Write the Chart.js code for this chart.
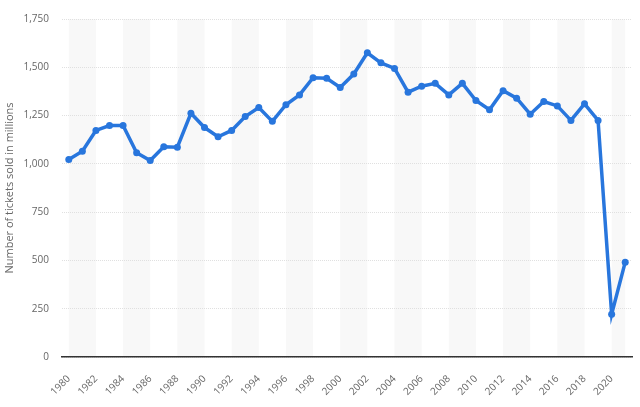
<!DOCTYPE html>
<html lang="en">
    <head>
        <title> Tickets sold </title>
        <script src="https://cdn.jsdelivr.net/npm/chart.js@4.4.1/dist/chart.umd.min.js"></script>
        <style>
            html, body { margin: 0; padding: 0; background: #fff; }
            #wrap { width: 640px; height: 407px; }
        </style>
    </head>

    <body>
        <div id="wrap"><canvas id="myChart"></canvas></div>

        <script>

            // data
            const Anos = [1980, 1981, 1982, 1983, 1984, 1985, 1986, 1987, 1988, 1989,
                          1990, 1991, 1992, 1993, 1994, 1995, 1996, 1997, 1998, 1999,
                          2000, 2001, 2002, 2003, 2004, 2005, 2006, 2007, 2008, 2009,
                          2010, 2011, 2012, 2013, 2014, 2015, 2016, 2017, 2018, 2019,
                          2020, 2021];
            const Ingressos = [1023, 1065, 1173, 1198, 1199, 1057, 1017, 1089, 1086, 1262,
                               1188, 1140, 1173, 1245, 1292, 1220, 1306, 1357, 1446, 1443,
                               1395, 1465, 1575, 1523, 1494, 1371, 1402, 1417, 1357, 1417,
                               1328, 1280, 1379, 1340, 1257, 1323, 1300, 1225, 1311, 1225,
                               221, 491];
            const TicksX = [1980, 1982, 1984, 1986, 1988, 1990, 1992, 1994, 1996, 1998, 2000,
                            2002, 2004, 2006, 2008, 2010, 2012, 2014, 2016, 2018, 2020];
            const TicksY = [0, 250, 500, 750, 1000, 1250, 1500, 1750];
            const InicioFaixas = [1980, 1984, 1988, 1992, 1996, 2000, 2004, 2008, 2012, 2016, 2020];

            const fonte = "'Open Sans', 'DejaVu Sans', sans-serif";

            // light grey bands behind the plot
            const faixas = {
                id: 'faixas',
                beforeDraw (chart) {
                    const { ctx, chartArea, scales } = chart;
                    const ultimo = Anos[Anos.length - 1];
                    ctx.save();
                    ctx.fillStyle = '#f8f8f8';
                    InicioFaixas.forEach (ini => {
                        const x0 = scales.x.getPixelForValue (ini);
                        const x1 = scales.x.getPixelForValue (Math.min (ini + 2, ultimo));
                        ctx.fillRect (x0, chartArea.top, x1 - x0, chartArea.bottom - chartArea.top);
                    });
                    ctx.restore();
                }
            };

            const ctx = document.getElementById('myChart').getContext('2d');
            const myChart = new Chart(ctx, {
                type: 'line',
                data: {
                    datasets: [{
                        label: 'Tickets sold',
                        data: Anos.map ((ano, i) => ({ x: ano, y: Ingressos[i] })),
                        borderColor: '#2876dd',
                        backgroundColor: '#2876dd',
                        borderWidth: 3.5,
                        pointRadius: 3.5,
                        pointBorderWidth: 0,
                        pointHoverRadius: 4,
                        tension: 0
                    }]
                },
                plugins: [faixas],
                options: {
                    responsive: true,
                    maintainAspectRatio: false,
                    animation: false,
                    layout: { padding: { top: 17, right: 8, left: 3, bottom: 0 } },
                    plugins: {
                        legend: { display: false },
                        tooltip: { enabled: false }
                    },
                    scales: {
                        x: {
                            type: 'linear',
                            min: 1979.5,
                            max: 2021.5,
                            afterBuildTicks: scale => { scale.ticks = TicksX.map (v => ({ value: v })); },
                            grid: { display: false },
                            border: { display: true, color: '#333', width: 1.5 },
                            afterFit: scale => { scale.height = 50; },
                            ticks: {
                                minRotation: 45,
                                maxRotation: 45,
                                padding: 8,
                                color: '#666',
                                font: { family: fonte, size: 10 },
                                callback: v => String (v)
                            }
                        },
                        y: {
                            min: 0,
                            max: 1750,
                            afterBuildTicks: scale => { scale.ticks = TicksY.map (v => ({ value: v })); },
                            afterFit: scale => { scale.width = 59; },
                            border: { display: false, dash: [1, 1] },
                            grid: { color: '#e0e0e0', drawTicks: false, lineWidth: 1 },
                            ticks: {
                                padding: 13,
                                color: '#666',
                                font: { family: fonte, size: 10 },
                                callback: v => v.toLocaleString ('en-US')
                            },
                            title: {
                                display: true,
                                text: 'Number of tickets sold in millions',
                                color: '#666',
                                font: { family: fonte, size: 11 },
                                padding: { top: 0, bottom: 3 }
                            }
                        }
                    }
                }
            });

        </script>
    </body>
</html>
